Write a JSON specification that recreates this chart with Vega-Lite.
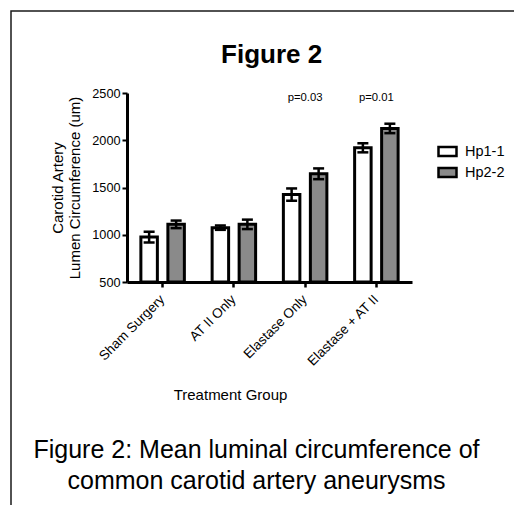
{
  "$schema": "https://vega.github.io/schema/vega-lite/v6.json",
  "width": 504,
  "height": 495,
  "autosize": {"type": "none"},
  "padding": {"left": 11, "top": 11, "right": -1, "bottom": -1},
  "background": "white",
  "config": {
    "font": "Liberation Sans",
    "view": {"stroke": "#1a1a1a", "strokeWidth": 1.5},
    "axis": {"labelColor": "black", "titleColor": "black", "domainColor": "black", "tickColor": "black", "titleFontWeight": "normal", "grid": false}
  },
  "title": {"text": "Figure 2", "fontSize": 26, "fontWeight": "bold", "anchor": "middle", "frame": "group", "dx": 8.6, "offset": -57, "color": "black"},
  "resolve": {"scale": {"x": "independent"}},
  "layer": [
    {
      "data": {"values": [
        {"group": "Sham Surgery", "hp": "Hp1-1", "mean": 975, "lo": 918, "hi": 1032},
        {"group": "Sham Surgery", "hp": "Hp2-2", "mean": 1110, "lo": 1070, "hi": 1150},
        {"group": "AT II Only", "hp": "Hp1-1", "mean": 1075, "lo": 1052, "hi": 1098},
        {"group": "AT II Only", "hp": "Hp2-2", "mean": 1110, "lo": 1060, "hi": 1160},
        {"group": "Elastase Only", "hp": "Hp1-1", "mean": 1425, "lo": 1360, "hi": 1490},
        {"group": "Elastase Only", "hp": "Hp2-2", "mean": 1645, "lo": 1588, "hi": 1702},
        {"group": "Elastase + AT II", "hp": "Hp1-1", "mean": 1920, "lo": 1872, "hi": 1968},
        {"group": "Elastase + AT II", "hp": "Hp2-2", "mean": 2125, "lo": 2075, "hi": 2175}
      ]},
      "encoding": {
        "x": {
          "field": "group", "type": "nominal",
          "scale": {"domain": ["Sham Surgery", "AT II Only", "Elastase Only", "Elastase + AT II"], "range": [116, 401], "paddingInner": 0, "paddingOuter": 0},
          "axis": {"orient": "bottom", "offset": -224, "domain": true, "ticks": true, "title": "Treatment Group", "titleFontSize": 15, "titleX": 219, "titleY": 117, "titleBaseline": "alphabetic", "titleAlign": "center", "labelAngle": -45, "labelAlign": "right", "labelBaseline": "top", "labelFontSize": 13.5, "labelPadding": 5, "labelOffset": -5, "domainWidth": 3, "domainColor": "black", "tickWidth": 2.5, "tickSize": 5, "tickColor": "black"}
        },
        "xOffset": {"field": "hp", "type": "nominal", "scale": {"paddingInner": 0.389, "paddingOuter": 0.514}}
      },
      "layer": [
        {
          "mark": {"type": "bar", "stroke": "black", "strokeWidth": 3},
          "encoding": {
            "y": {
              "field": "mean", "type": "quantitative",
              "scale": {"domain": [500, 2500], "range": [271, 82], "nice": false, "zero": false},
              "axis": {"orient": "left", "offset": -116, "values": [500, 1000, 1500, 2000, 2500], "format": "d", "title": ["Carotid Artery", "Lumen Circumference (um)"], "titleFontSize": 15, "titleLineHeight": 17, "titlePadding": 9, "labelFontSize": 12.7, "labelPadding": 2, "domainWidth": 3, "tickWidth": 2, "tickSize": 5}
            },
            "y2": {"datum": 500},
            "fill": {
              "field": "hp", "type": "nominal",
              "scale": {"domain": ["Hp1-1", "Hp2-2"], "range": ["#ffffff", "#8a8a8a"]},
              "legend": {"orient": "none", "legendX": 426, "legendY": 130, "title": null, "symbolType": "M-1,-0.5H1V0.5H-1Z", "symbolSize": 324, "symbolStrokeColor": "black", "symbolStrokeWidth": 2.5, "symbolOpacity": 1, "labelFontSize": 14.5, "labelColor": "black", "labelOffset": 7, "rowPadding": 1, "padding": 0}
            }
          }
        },
        {
          "mark": {"type": "rule", "strokeWidth": 2.5, "color": "black"},
          "encoding": {
            "y": {"field": "lo", "type": "quantitative"},
            "y2": {"field": "hi"}
          }
        },
        {
          "mark": {"type": "tick", "orient": "horizontal", "size": 11, "thickness": 2.5, "color": "black", "opacity": 1},
          "encoding": {"y": {"field": "lo", "type": "quantitative"}}
        },
        {
          "mark": {"type": "tick", "orient": "horizontal", "size": 11, "thickness": 2.5, "color": "black", "opacity": 1},
          "encoding": {"y": {"field": "hi", "type": "quantitative"}}
        }
      ]
    },
    {
      "data": {"values": [
        {"group": "Elastase Only", "label": "p=0.03"},
        {"group": "Elastase + AT II", "label": "p=0.01"}
      ]},
      "mark": {"type": "text", "fontSize": 11.3, "baseline": "middle", "color": "black"},
      "encoding": {
        "x": {
          "field": "group", "type": "nominal",
          "scale": {"domain": ["Sham Surgery", "AT II Only", "Elastase Only", "Elastase + AT II"], "range": [116, 401], "paddingInner": 0, "paddingOuter": 0},
          "axis": {"orient": "bottom", "offset": -224, "domain": false, "ticks": false, "labels": false, "title": ["Figure 2: Mean luminal circumference of", "common carotid artery aneurysms"], "titleFontSize": 25, "titleLineHeight": 31, "titleX": 245, "titleY": 175, "titleBaseline": "alphabetic", "titleAlign": "center"}
        },
        "y": {"datum": 2447, "type": "quantitative"},
        "text": {"field": "label"}
      }
    }
  ]
}
